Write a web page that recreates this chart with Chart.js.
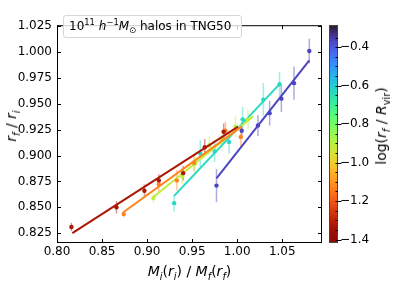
<!DOCTYPE html>
<html lang="en">
<head>
<meta charset="UTF-8">
<title>r_f / r_i vs M_i(r_i) / M_f(r_f)</title>
<script src="https://cdn.jsdelivr.net/npm/chart.js"></script>
<style>
  body { margin: 0; background: #fff; }
  #wrap { position: relative; width: 399px; height: 285px; font-family: "DejaVu Sans", sans-serif; color: #000; }
  .lbl { position: absolute; white-space: nowrap; font-size: 14px; line-height: 1; transform: translate(-50%, -50%); }
  .rot { transform: translate(-50%, -50%) rotate(-90deg); }
  sub, sup { font-size: 70%; line-height: 0; }
  #note {
    position: absolute; left: 63px; top: 15px; width: 172px; height: 21px;
    border: 1px solid #d6d6d6; border-radius: 3px; background: rgba(255,255,255,0.8);
    font-size: 12px; line-height: 21px; padding-left: 5px; white-space: nowrap;
  }
</style>
</head>
<body>
<div id="wrap">
  <canvas id="ratioChart" width="399" height="285"></canvas>
  <div id="note">10<sup>11</sup> <i>h</i><sup>&minus;1</sup><i>M</i><sub>&#8857;</sub> halos in TNG50</div>
  <div class="lbl" style="left:189.5px; top:271px;"><i>M<sub>i</sub></i>(<i>r<sub>i</sub></i>) / <i>M<sub>f</sub></i>(<i>r<sub>f</sub></i>)</div>
  <div class="lbl rot" style="left:11px; top:125.5px;"><i>r<sub>f</sub></i> / <i>r<sub>i</sub></i></div>
  <div class="lbl rot" style="left:381px; top:125.5px;">log(<i>r<sub>f</sub></i> / <i>R</i><sub>vir</sub>)</div>
</div>
<script>
// tick labels
const xTicks = [0.80, 0.85, 0.90, 0.95, 1.00, 1.05];
const yTicks = [0.825, 0.850, 0.875, 0.900, 0.925, 0.950, 0.975, 1.000, 1.025];
const cbTicks = [-0.4, -0.6, -0.8, -1.0, -1.2, -1.4];

// colour value of each series, log(r_f / R_vir)
const logR = [-1.33, -1.13, -0.91, -0.63, -0.37];

// binned points with error bars
const redX = [0.816, 0.866, 0.897, 0.913, 0.940, 0.964, 0.985];
const redY = [0.831, 0.850, 0.866, 0.876, 0.883, 0.908, 0.923];
const redErr = [0.004, 0.006, 0.006, 0.006, 0.007, 0.008, 0.008];

const orangeX = [0.874, 0.913, 0.933, 0.952, 0.987, 1.004];
const orangeY = [0.8435, 0.872, 0.876, 0.893, 0.924, 0.918];
const orangeErr = [0.003, 0.007, 0.010, 0.008, 0.009, 0.010];

const yellowX = [0.907, 0.939, 0.953, 0.969, 0.983, 0.998, 1.012];
const yellowY = [0.859, 0.880, 0.892, 0.910, 0.915, 0.928, 0.935];
const yellowErr = [0.005, 0.008, 0.009, 0.009, 0.010, 0.010, 0.009];

const cyanX = [0.930, 0.959, 0.975, 0.991, 1.006, 1.029, 1.047];
const cyanY = [0.854, 0.902, 0.904, 0.913, 0.935, 0.954, 0.969];
const cyanErr = [0.008, 0.013, 0.010, 0.011, 0.012, 0.016, 0.012];

const blueX = [0.977, 1.005, 1.023, 1.036, 1.049, 1.063, 1.080];
const blueY = [0.871, 0.924, 0.929, 0.941, 0.955, 0.970, 1.001];
const blueErr = [0.016, 0.008, 0.010, 0.012, 0.013, 0.016, 0.012];

// fitted lines (end points)
const redFitX = [0.817, 1.001], redFitY = [0.825, 0.928];
const orangeFitX = [0.874, 1.005], orangeFitY = [0.8455, 0.928];
const yellowFitX = [0.907, 1.018], yellowFitY = [0.860, 0.938];
const cyanFitX = [0.930, 1.047], cyanFitY = [0.861, 0.969];
const blueFitX = [0.977, 1.080], blueFitY = [0.878, 0.992];

const CB_MIN = -1.418, CB_MAX = -0.286;

// turbo colormap (polynomial approximation)
function turbo(t, a) {
  t = Math.min(1, Math.max(0, t));
  const r = 0.13572138 + t * (4.61539260 + t * (-42.66032258 + t * (132.13108234 + t * (-152.94239396 + t * 59.28637943))));
  const g = 0.09140261 + t * (2.19418839 + t * (4.84296658 + t * (-14.18503333 + t * (4.27729857 + t * 2.82956604))));
  const b = 0.10667330 + t * (12.64194608 + t * (-60.58204836 + t * (110.36276771 + t * (-89.90310912 + t * 27.34824973))));
  const c = v => Math.round(255 * Math.min(1, Math.max(0, v)));
  return `rgba(${c(r)},${c(g)},${c(b)},${a === undefined ? 1 : a})`;
}
// reversed turbo, like turbo_r
function cmap(v, a) {
  return turbo(1 - (v - CB_MIN) / (CB_MAX - CB_MIN), a);
}

const toPts = (xs, ys) => xs.map((x, i) => ({ x: x, y: ys[i] }));

const series = [
  [redX, redY, redErr, redFitX, redFitY],
  [orangeX, orangeY, orangeErr, orangeFitX, orangeFitY],
  [yellowX, yellowY, yellowErr, yellowFitX, yellowFitY],
  [cyanX, cyanY, cyanErr, cyanFitX, cyanFitY],
  [blueX, blueY, blueErr, blueFitX, blueFitY]
];

const datasets = [];
series.forEach((s, i) => {
  const col = cmap(logR[i]);
  datasets.push({
    data: toPts(s[0], s[1]),
    yerr: s[2],
    errColor: cmap(logR[i], 0.45),
    showLine: false,
    pointRadius: 2.2,
    pointBackgroundColor: col,
    pointBorderWidth: 0
  });
  datasets.push({
    data: toPts(s[3], s[4]),
    showLine: true,
    pointRadius: 0,
    borderColor: col,
    borderWidth: 2
  });
});

// vertical error bars, drawn under the points
const errorBars = {
  id: 'errorBars',
  beforeDatasetsDraw(chart) {
    const ctx = chart.ctx, xs = chart.scales.x, ys = chart.scales.y;
    ctx.save();
    ctx.lineWidth = 1.5;
    chart.data.datasets.forEach(ds => {
      if (!ds.yerr) return;
      ctx.strokeStyle = ds.errColor;
      ds.data.forEach((p, i) => {
        const px = xs.getPixelForValue(p.x);
        ctx.beginPath();
        ctx.moveTo(px, ys.getPixelForValue(p.y - ds.yerr[i]));
        ctx.lineTo(px, ys.getPixelForValue(p.y + ds.yerr[i]));
        ctx.stroke();
      });
    });
    ctx.restore();
  }
};

// frame, inward ticks and the colour bar
const frame = {
  id: 'frame',
  afterDraw(chart) {
    const ctx = chart.ctx, a = chart.chartArea;
    const xs = chart.scales.x, ys = chart.scales.y, cb = chart.scales.cb;
    ctx.save();
    ctx.strokeStyle = '#000';
    ctx.lineWidth = 1;
    ctx.strokeRect(a.left + 0.5, a.top + 0.5, a.right - a.left - 1, a.bottom - a.top - 1);
    ctx.beginPath();
    xTicks.forEach(v => {
      const px = Math.round(xs.getPixelForValue(v)) + 0.5;
      ctx.moveTo(px, a.bottom); ctx.lineTo(px, a.bottom - 4);
      ctx.moveTo(px, a.top); ctx.lineTo(px, a.top + 4);
    });
    yTicks.forEach(v => {
      const py = Math.round(ys.getPixelForValue(v)) + 0.5;
      ctx.moveTo(a.left, py); ctx.lineTo(a.left + 4, py);
      ctx.moveTo(a.right, py); ctx.lineTo(a.right - 4, py);
    });
    ctx.stroke();

    // colour bar
    const x0 = a.right + 7, w = 9;
    const grad = ctx.createLinearGradient(0, a.top, 0, a.bottom);
    for (let k = 0; k <= 40; k++) {
      grad.addColorStop(k / 40, turbo(k / 40));
    }
    ctx.fillStyle = grad;
    ctx.fillRect(x0, a.top, w, a.bottom - a.top);
    ctx.strokeStyle = '#444';
    ctx.strokeRect(x0 + 0.5, a.top + 0.5, w - 1, a.bottom - a.top - 1);
    ctx.strokeStyle = '#000';
    ctx.beginPath();
    cbTicks.forEach(v => {
      const py = Math.round(cb.getPixelForValue(v)) + 0.5;
      ctx.moveTo(x0 + w, py); ctx.lineTo(x0 + w + 3.5, py);
    });
    for (let v = -1.40; v <= -0.30; v += 0.05) {
      const py = Math.round(cb.getPixelForValue(v)) + 0.5;
      ctx.moveTo(x0 + w, py); ctx.lineTo(x0 + w - 2.5, py);
    }
    ctx.stroke();
    ctx.restore();
  }
};

const tickFont = { family: 'DejaVu Sans', size: 12 };

new Chart(document.getElementById('ratioChart'), {
  type: 'scatter',
  data: { datasets: datasets },
  plugins: [errorBars, frame],
  options: {
    responsive: false,
    animation: false,
    layout: { padding: { top: 8, left: 0, right: 0, bottom: 0 } },
    plugins: { legend: { display: false }, tooltip: { enabled: false } },
    scales: {
      x: {
        type: 'linear', min: 0.80, max: 1.0941,
        grid: { display: false, drawTicks: false },
        border: { display: false },
        afterBuildTicks: s => { s.ticks = xTicks.map(v => ({ value: v })); },
        afterFit: s => { s.height = 42; },
        ticks: { font: tickFont, color: '#000', padding: 2, maxRotation: 0, callback: v => v.toFixed(2) }
      },
      y: {
        type: 'linear', min: 0.8155, max: 1.026,
        grid: { display: false, drawTicks: false },
        border: { display: false },
        afterBuildTicks: s => { s.ticks = yTicks.map(v => ({ value: v })); },
        afterFit: s => { s.width = 57; },
        ticks: { font: tickFont, color: '#000', padding: 5, callback: v => v.toFixed(3) }
      },
      cb: {
        type: 'linear', position: 'right', min: CB_MIN, max: CB_MAX,
        grid: { display: false, drawTicks: false },
        border: { display: false },
        afterBuildTicks: s => { s.ticks = cbTicks.map(v => ({ value: v })); },
        afterFit: s => { s.width = 77; },
        ticks: { font: tickFont, color: '#000', padding: 18, callback: v => v.toFixed(1).replace('-', '\u2212') }
      }
    }
  }
});
</script>
</body>
</html>
